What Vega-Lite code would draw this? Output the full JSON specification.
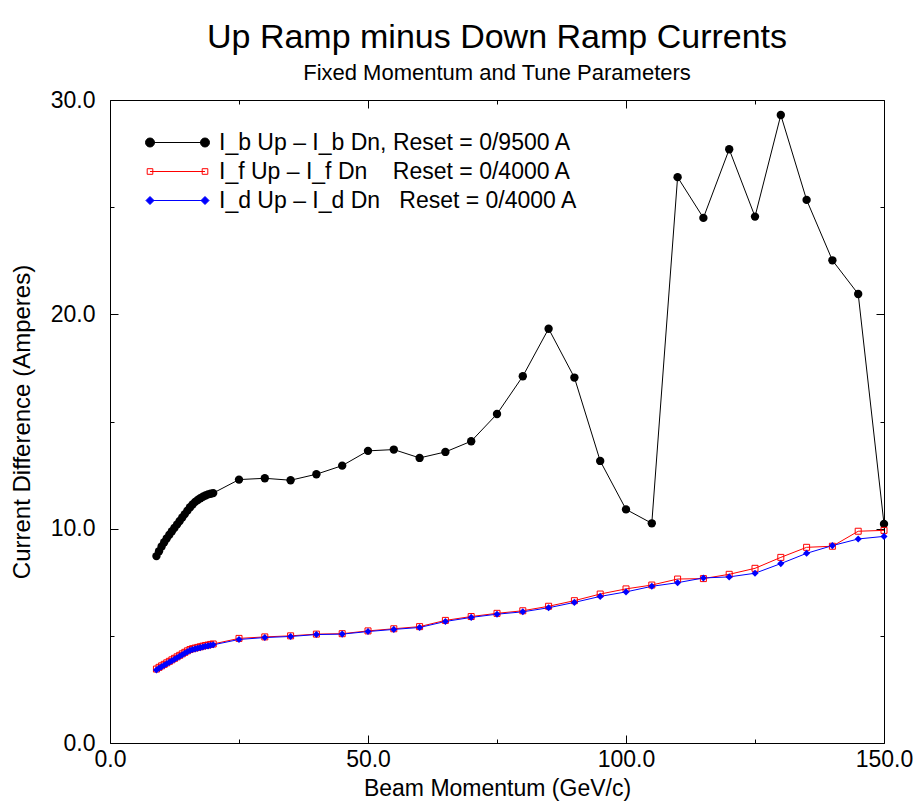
{
  "$schema": "https://vega.github.io/schema/vega-lite/v6.json",
  "width": 774,
  "height": 643,
  "autosize": {"type": "none"},
  "padding": {"left": 110, "top": 100, "right": 29, "bottom": 63},
  "background": "white",
  "config": {
    "view": {"stroke": "black", "strokeWidth": 1},
    "font": "Liberation Sans",
    "axis": {"labelFont": "Liberation Sans", "titleFont": "Liberation Sans", "labelColor": "black", "titleColor": "black", "tickColor": "black", "domain": false, "grid": false, "titleFontWeight": "normal", "labelFlush": false}
  },
  "title": {
    "text": "Up Ramp minus Down Ramp Currents",
    "subtitle": "Fixed Momentum and Tune Parameters",
    "fontSize": 34,
    "subtitleFontSize": 22,
    "font": "Liberation Sans",
    "subtitleFont": "Liberation Sans",
    "fontWeight": "normal",
    "color": "black",
    "subtitleColor": "black",
    "anchor": "middle",
    "frame": "group",
    "offset": 5,
    "subtitlePadding": 8
  },
  "data": {
    "values": [
      {"x": 9.0, "y": 8.72, "series": "I_b"},
      {"x": 9.5, "y": 8.95, "series": "I_b"},
      {"x": 10.0, "y": 9.17, "series": "I_b"},
      {"x": 10.5, "y": 9.37, "series": "I_b"},
      {"x": 11.0, "y": 9.55, "series": "I_b"},
      {"x": 11.5, "y": 9.72, "series": "I_b"},
      {"x": 12.0, "y": 9.88, "series": "I_b"},
      {"x": 12.5, "y": 10.04, "series": "I_b"},
      {"x": 13.0, "y": 10.2, "series": "I_b"},
      {"x": 13.5, "y": 10.36, "series": "I_b"},
      {"x": 14.0, "y": 10.52, "series": "I_b"},
      {"x": 14.5, "y": 10.68, "series": "I_b"},
      {"x": 15.0, "y": 10.84, "series": "I_b"},
      {"x": 15.5, "y": 11.0, "series": "I_b"},
      {"x": 16.0, "y": 11.13, "series": "I_b"},
      {"x": 16.5, "y": 11.25, "series": "I_b"},
      {"x": 17.0, "y": 11.34, "series": "I_b"},
      {"x": 17.5, "y": 11.42, "series": "I_b"},
      {"x": 18.0, "y": 11.49, "series": "I_b"},
      {"x": 18.5, "y": 11.55, "series": "I_b"},
      {"x": 19.0, "y": 11.6, "series": "I_b"},
      {"x": 19.5, "y": 11.63, "series": "I_b"},
      {"x": 20.0, "y": 11.66, "series": "I_b"},
      {"x": 25, "y": 12.29, "series": "I_b"},
      {"x": 30, "y": 12.35, "series": "I_b"},
      {"x": 35, "y": 12.26, "series": "I_b"},
      {"x": 40, "y": 12.54, "series": "I_b"},
      {"x": 45, "y": 12.94, "series": "I_b"},
      {"x": 50, "y": 13.63, "series": "I_b"},
      {"x": 55, "y": 13.69, "series": "I_b"},
      {"x": 60, "y": 13.3, "series": "I_b"},
      {"x": 65, "y": 13.58, "series": "I_b"},
      {"x": 70, "y": 14.08, "series": "I_b"},
      {"x": 75, "y": 15.35, "series": "I_b"},
      {"x": 80, "y": 17.11, "series": "I_b"},
      {"x": 85, "y": 19.33, "series": "I_b"},
      {"x": 90, "y": 17.05, "series": "I_b"},
      {"x": 95, "y": 13.16, "series": "I_b"},
      {"x": 100, "y": 10.9, "series": "I_b"},
      {"x": 105, "y": 10.25, "series": "I_b"},
      {"x": 110, "y": 26.4, "series": "I_b"},
      {"x": 115, "y": 24.5, "series": "I_b"},
      {"x": 120, "y": 27.7, "series": "I_b"},
      {"x": 125, "y": 24.56, "series": "I_b"},
      {"x": 130, "y": 29.3, "series": "I_b"},
      {"x": 135, "y": 25.34, "series": "I_b"},
      {"x": 140, "y": 22.52, "series": "I_b"},
      {"x": 145, "y": 20.95, "series": "I_b"},
      {"x": 150, "y": 10.22, "series": "I_b"},

      {"x": 9.0, "y": 3.45, "series": "I_f"},
      {"x": 9.5, "y": 3.53, "series": "I_f"},
      {"x": 10.0, "y": 3.6, "series": "I_f"},
      {"x": 10.5, "y": 3.67, "series": "I_f"},
      {"x": 11.0, "y": 3.74, "series": "I_f"},
      {"x": 11.5, "y": 3.81, "series": "I_f"},
      {"x": 12.0, "y": 3.88, "series": "I_f"},
      {"x": 12.5, "y": 3.95, "series": "I_f"},
      {"x": 13.0, "y": 4.02, "series": "I_f"},
      {"x": 13.5, "y": 4.09, "series": "I_f"},
      {"x": 14.0, "y": 4.16, "series": "I_f"},
      {"x": 14.5, "y": 4.23, "series": "I_f"},
      {"x": 15.0, "y": 4.3, "series": "I_f"},
      {"x": 15.5, "y": 4.36, "series": "I_f"},
      {"x": 16.0, "y": 4.4, "series": "I_f"},
      {"x": 16.5, "y": 4.43, "series": "I_f"},
      {"x": 17.0, "y": 4.46, "series": "I_f"},
      {"x": 17.5, "y": 4.49, "series": "I_f"},
      {"x": 18.0, "y": 4.52, "series": "I_f"},
      {"x": 18.5, "y": 4.55, "series": "I_f"},
      {"x": 19.0, "y": 4.57, "series": "I_f"},
      {"x": 19.5, "y": 4.6, "series": "I_f"},
      {"x": 20.0, "y": 4.62, "series": "I_f"},
      {"x": 25, "y": 4.88, "series": "I_f"},
      {"x": 30, "y": 4.95, "series": "I_f"},
      {"x": 35, "y": 5.0, "series": "I_f"},
      {"x": 40, "y": 5.08, "series": "I_f"},
      {"x": 45, "y": 5.1, "series": "I_f"},
      {"x": 50, "y": 5.23, "series": "I_f"},
      {"x": 55, "y": 5.33, "series": "I_f"},
      {"x": 60, "y": 5.43, "series": "I_f"},
      {"x": 65, "y": 5.72, "series": "I_f"},
      {"x": 70, "y": 5.9, "series": "I_f"},
      {"x": 75, "y": 6.05, "series": "I_f"},
      {"x": 80, "y": 6.17, "series": "I_f"},
      {"x": 85, "y": 6.38, "series": "I_f"},
      {"x": 90, "y": 6.64, "series": "I_f"},
      {"x": 95, "y": 6.95, "series": "I_f"},
      {"x": 100, "y": 7.19, "series": "I_f"},
      {"x": 105, "y": 7.37, "series": "I_f"},
      {"x": 110, "y": 7.65, "series": "I_f"},
      {"x": 115, "y": 7.67, "series": "I_f"},
      {"x": 120, "y": 7.87, "series": "I_f"},
      {"x": 125, "y": 8.15, "series": "I_f"},
      {"x": 130, "y": 8.66, "series": "I_f"},
      {"x": 135, "y": 9.13, "series": "I_f"},
      {"x": 140, "y": 9.18, "series": "I_f"},
      {"x": 145, "y": 9.88, "series": "I_f"},
      {"x": 150, "y": 9.92, "series": "I_f"},

      {"x": 9.0, "y": 3.41, "series": "I_d"},
      {"x": 9.5, "y": 3.49, "series": "I_d"},
      {"x": 10.0, "y": 3.56, "series": "I_d"},
      {"x": 10.5, "y": 3.63, "series": "I_d"},
      {"x": 11.0, "y": 3.7, "series": "I_d"},
      {"x": 11.5, "y": 3.77, "series": "I_d"},
      {"x": 12.0, "y": 3.84, "series": "I_d"},
      {"x": 12.5, "y": 3.91, "series": "I_d"},
      {"x": 13.0, "y": 3.98, "series": "I_d"},
      {"x": 13.5, "y": 4.05, "series": "I_d"},
      {"x": 14.0, "y": 4.12, "series": "I_d"},
      {"x": 14.5, "y": 4.19, "series": "I_d"},
      {"x": 15.0, "y": 4.26, "series": "I_d"},
      {"x": 15.5, "y": 4.32, "series": "I_d"},
      {"x": 16.0, "y": 4.36, "series": "I_d"},
      {"x": 16.5, "y": 4.39, "series": "I_d"},
      {"x": 17.0, "y": 4.42, "series": "I_d"},
      {"x": 17.5, "y": 4.45, "series": "I_d"},
      {"x": 18.0, "y": 4.48, "series": "I_d"},
      {"x": 18.5, "y": 4.51, "series": "I_d"},
      {"x": 19.0, "y": 4.53, "series": "I_d"},
      {"x": 19.5, "y": 4.56, "series": "I_d"},
      {"x": 20.0, "y": 4.58, "series": "I_d"},
      {"x": 25, "y": 4.83, "series": "I_d"},
      {"x": 30, "y": 4.92, "series": "I_d"},
      {"x": 35, "y": 4.97, "series": "I_d"},
      {"x": 40, "y": 5.06, "series": "I_d"},
      {"x": 45, "y": 5.08, "series": "I_d"},
      {"x": 50, "y": 5.2, "series": "I_d"},
      {"x": 55, "y": 5.3, "series": "I_d"},
      {"x": 60, "y": 5.39, "series": "I_d"},
      {"x": 65, "y": 5.67, "series": "I_d"},
      {"x": 70, "y": 5.86, "series": "I_d"},
      {"x": 75, "y": 6.01, "series": "I_d"},
      {"x": 80, "y": 6.12, "series": "I_d"},
      {"x": 85, "y": 6.31, "series": "I_d"},
      {"x": 90, "y": 6.56, "series": "I_d"},
      {"x": 95, "y": 6.84, "series": "I_d"},
      {"x": 100, "y": 7.05, "series": "I_d"},
      {"x": 105, "y": 7.31, "series": "I_d"},
      {"x": 110, "y": 7.48, "series": "I_d"},
      {"x": 115, "y": 7.7, "series": "I_d"},
      {"x": 120, "y": 7.75, "series": "I_d"},
      {"x": 125, "y": 7.92, "series": "I_d"},
      {"x": 130, "y": 8.37, "series": "I_d"},
      {"x": 135, "y": 8.85, "series": "I_d"},
      {"x": 140, "y": 9.21, "series": "I_d"},
      {"x": 145, "y": 9.52, "series": "I_d"},
      {"x": 150, "y": 9.64, "series": "I_d"}
    ]
  },
  "resolve": {"axis": {"x": "independent", "y": "independent"}},
  "layer": [
    {
      "mark": {"type": "line", "strokeWidth": 1},
      "encoding": {
        "x": {"field": "x", "type": "quantitative", "scale": {"domain": [0, 150], "nice": false, "zero": false},
          "axis": {"orient": "bottom", "values": [0, 50, 100, 150], "format": ".1f", "tickSize": -8, "labelPadding": 13, "labelFontSize": 23, "title": "Beam Momentum (GeV/c)", "titleFontSize": 23, "titlePadding": 6}},
        "y": {"field": "y", "type": "quantitative", "scale": {"domain": [0, 30], "nice": false, "zero": false},
          "axis": {"orient": "left", "values": [0, 10, 20, 30], "format": ".1f", "tickSize": -8, "labelPadding": 23, "labelFontSize": 23, "title": "Current Difference (Amperes)", "titleFontSize": 24, "titlePadding": 16}},
        "color": {"field": "series", "type": "nominal",
          "scale": {"domain": ["I_b", "I_f", "I_d"], "range": ["#000000", "#ff0000", "#0000ff"]},
          "legend": {
            "orient": "none", "legendX": 40, "legendY": 31, "title": null, "padding": 0, "offset": 0,
            "symbolSize": 400, "symbolStrokeWidth": 1, "labelFontSize": 23, "labelFont": "Liberation Sans", "labelColor": "black",
            "labelOffset": 46, "rowPadding": 5, "labelLimit": 0,
            "labelExpr": "datum.value == 'I_b' ? 'I_b Up – I_b Dn, Reset = 0/9500 A' : datum.value == 'I_f' ? 'I_f Up – I_f Dn\u00a0\u00a0\u00a0\u00a0Reset = 0/4000 A' : 'I_d Up – I_d Dn\u00a0\u00a0\u00a0Reset = 0/4000 A'",
            "encode": {"symbols": {"update": {
              "shape": {"signal": "datum.value == 'I_b' ? 'M-1.15,0L4.35,0M-1.6,0A0.45,0.45,0,1,1,-0.7,0A0.45,0.45,0,1,1,-1.6,0ZM3.9,0A0.45,0.45,0,1,1,4.8,0A0.45,0.45,0,1,1,3.9,0Z' : datum.value == 'I_f' ? 'M-1.15,0L4.35,0M-1.43,-0.28L-0.87,-0.28L-0.87,0.28L-1.43,0.28ZM4.07,-0.28L4.63,-0.28L4.63,0.28L4.07,0.28Z' : 'M-1.15,0L4.35,0M-1.55,0L-1.15,-0.4L-0.75,0L-1.15,0.4ZM3.95,0L4.35,-0.4L4.75,0L4.35,0.4Z'"},
              "fill": {"signal": "datum.value == 'I_b' ? '#000000' : datum.value == 'I_f' ? '#ffffff' : '#0000ff'"},
              "stroke": {"signal": "datum.value == 'I_b' ? '#000000' : datum.value == 'I_f' ? '#ff0000' : '#0000ff'"},
              "size": {"value": 400},
              "strokeWidth": {"value": 1},
              "opacity": {"value": 1}
            }}}
          }}
      }
    },
    {
      "transform": [{"filter": "datum.series == 'I_b'"}],
      "mark": {"type": "point", "shape": "circle", "filled": true, "color": "#000000", "opacity": 1, "size": 70},
      "encoding": {
        "x": {"field": "x", "type": "quantitative", "scale": {"domain": [0, 150], "nice": false, "zero": false},
          "axis": {"orient": "top", "values": [0, 50, 100, 150], "labels": false, "tickSize": -8, "title": null}},
        "y": {"field": "y", "type": "quantitative", "scale": {"domain": [0, 30], "nice": false, "zero": false},
          "axis": {"orient": "right", "values": [0, 10, 20, 30], "labels": false, "tickSize": -8, "title": null}}
      }
    },
    {
      "transform": [{"filter": "datum.series == 'I_f'"}],
      "mark": {"type": "point", "shape": "square", "filled": false, "color": "#ff0000", "opacity": 1, "size": 36, "strokeWidth": 1},
      "encoding": {
        "x": {"field": "x", "type": "quantitative", "scale": {"domain": [0, 150], "nice": false, "zero": false}, "axis": null},
        "y": {"field": "y", "type": "quantitative", "scale": {"domain": [0, 30], "nice": false, "zero": false}, "axis": null}
      }
    },
    {
      "transform": [{"filter": "datum.series == 'I_d'"}],
      "mark": {"type": "point", "shape": "diamond", "filled": true, "color": "#0000ff", "opacity": 1, "size": 50},
      "encoding": {
        "x": {"field": "x", "type": "quantitative", "scale": {"domain": [0, 150], "nice": false, "zero": false}, "axis": null},
        "y": {"field": "y", "type": "quantitative", "scale": {"domain": [0, 30], "nice": false, "zero": false}, "axis": null}
      }
    },
    {
      "mark": {"type": "point", "opacity": 0},
      "encoding": {
        "x": {"field": "x", "type": "quantitative", "scale": {"domain": [0, 150], "nice": false, "zero": false},
          "axis": {"orient": "bottom", "values": [25, 75, 125], "labels": false, "tickSize": -4, "title": null}},
        "y": {"field": "y", "type": "quantitative", "scale": {"domain": [0, 30], "nice": false, "zero": false},
          "axis": {"orient": "left", "values": [5, 15, 25], "labels": false, "tickSize": -4, "title": null}}
      }
    },
    {
      "mark": {"type": "point", "opacity": 0},
      "encoding": {
        "x": {"field": "x", "type": "quantitative", "scale": {"domain": [0, 150], "nice": false, "zero": false},
          "axis": {"orient": "top", "values": [25, 75, 125], "labels": false, "tickSize": -4, "title": null}},
        "y": {"field": "y", "type": "quantitative", "scale": {"domain": [0, 30], "nice": false, "zero": false},
          "axis": {"orient": "right", "values": [5, 15, 25], "labels": false, "tickSize": -4, "title": null}}
      }
    }
  ]
}
